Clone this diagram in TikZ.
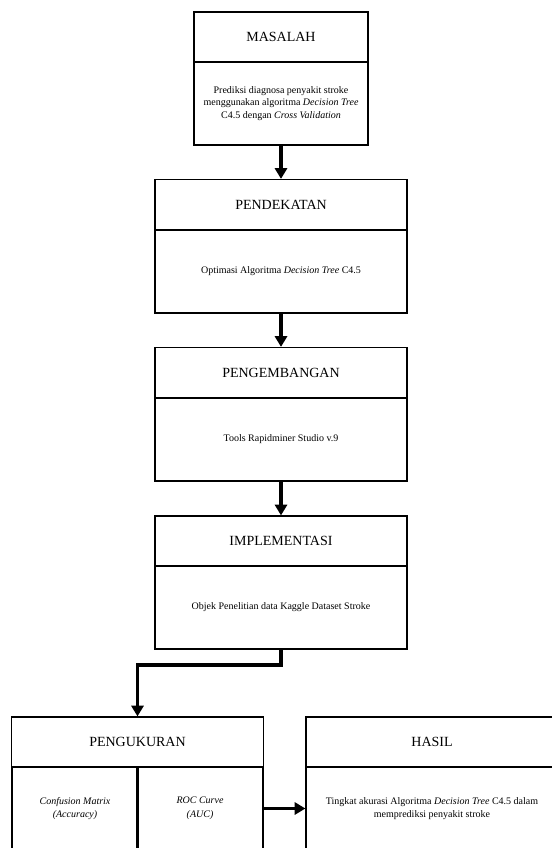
\documentclass[tikz,border=0pt]{standalone}
\usepackage{fontspec}
\setmainfont{Liberation Serif}
\usetikzlibrary{arrows.meta}

\tikzset{
  judul/.style={draw, line width=0.9pt, minimum width=189pt, minimum height=37.5pt,
    inner sep=0pt, font=\fontsize{10.5}{12}\selectfont},
  isi/.style={draw, line width=0.9pt, minimum width=189pt, minimum height=62.25pt,
    inner sep=0pt, align=center, font=\fontsize{7.5}{9.3}\selectfont},
  panah/.style={line width=2.6pt, -{Triangle[length=8pt, width=9pt]}}
}

\begin{document}
\begin{tikzpicture}[x=0.75pt, y=-0.75pt]
  \useasboundingbox (0, 0) rectangle (551, 848);

  % Masalah
  \node[judul, minimum width=130.5pt] (masalah) at (281, 37) {MASALAH};
  \node[isi, minimum width=130.5pt] (masalahisi) at (281, 103.5)
    {Prediksi diagnosa penyakit stroke\\
     menggunakan algoritma \textit{Decision Tree}\\
     C4.5 dengan \textit{Cross Validation}};

  % Pendekatan
  \node[judul] (pendekatan) at (281, 204.5) {PENDEKATAN};
  \node[isi] (pendekatanisi) at (281, 271.5)
    {Optimasi Algoritma \textit{Decision Tree} C4.5};

  % Pengembangan
  \node[judul] (pengembangan) at (281, 372.5) {PENGEMBANGAN};
  \node[isi] (pengembanganisi) at (281, 439.5)
    {Tools Rapidminer Studio v.9};

  % Implementasi
  \node[judul] (implementasi) at (281, 541) {IMPLEMENTASI};
  \node[isi] (implementasiisi) at (281, 607.5)
    {Objek Penelitian data Kaggle Dataset Stroke};

  % Pengukuran
  \node[judul] (pengukuran) at (137.5, 742) {PENGUKURAN};
  \node[isi, minimum width=94.5pt, font=\fontsize{7.5}{10.3}\selectfont] (ukurkiri)
    at (75, 808.5) {\textit{Confusion Matrix}\\ \textit{(Accuracy)}};
  \node[isi, minimum width=94.5pt, font=\fontsize{7.5}{10.3}\selectfont] (ukurkanan)
    at (200, 808.5) {\textit{ROC Curve}\\ \textit{(AUC)}};

  % Hasil
  \node[judul] (hasil) at (432, 742) {HASIL};
  \node[isi, font=\fontsize{7.5}{9.8}\selectfont] (hasilisi) at (432, 808.5)
    {Tingkat akurasi Algoritma \textit{Decision Tree} C4.5 dalam\\
     memprediksi penyakit stroke};

  % Panah
  \draw[panah] (masalahisi.south) -- (pendekatan.north);
  \draw[panah] (pendekatanisi.south) -- (pengembangan.north);
  \draw[panah] (pengembanganisi.south) -- (implementasi.north);
  \coordinate (belok) at (281, 665);
  \draw[panah] (implementasiisi.south) -- (belok) -| (pengukuran.north);
  \draw[panah] (ukurkanan.east) -- (hasilisi.west);
\end{tikzpicture}
\end{document}
